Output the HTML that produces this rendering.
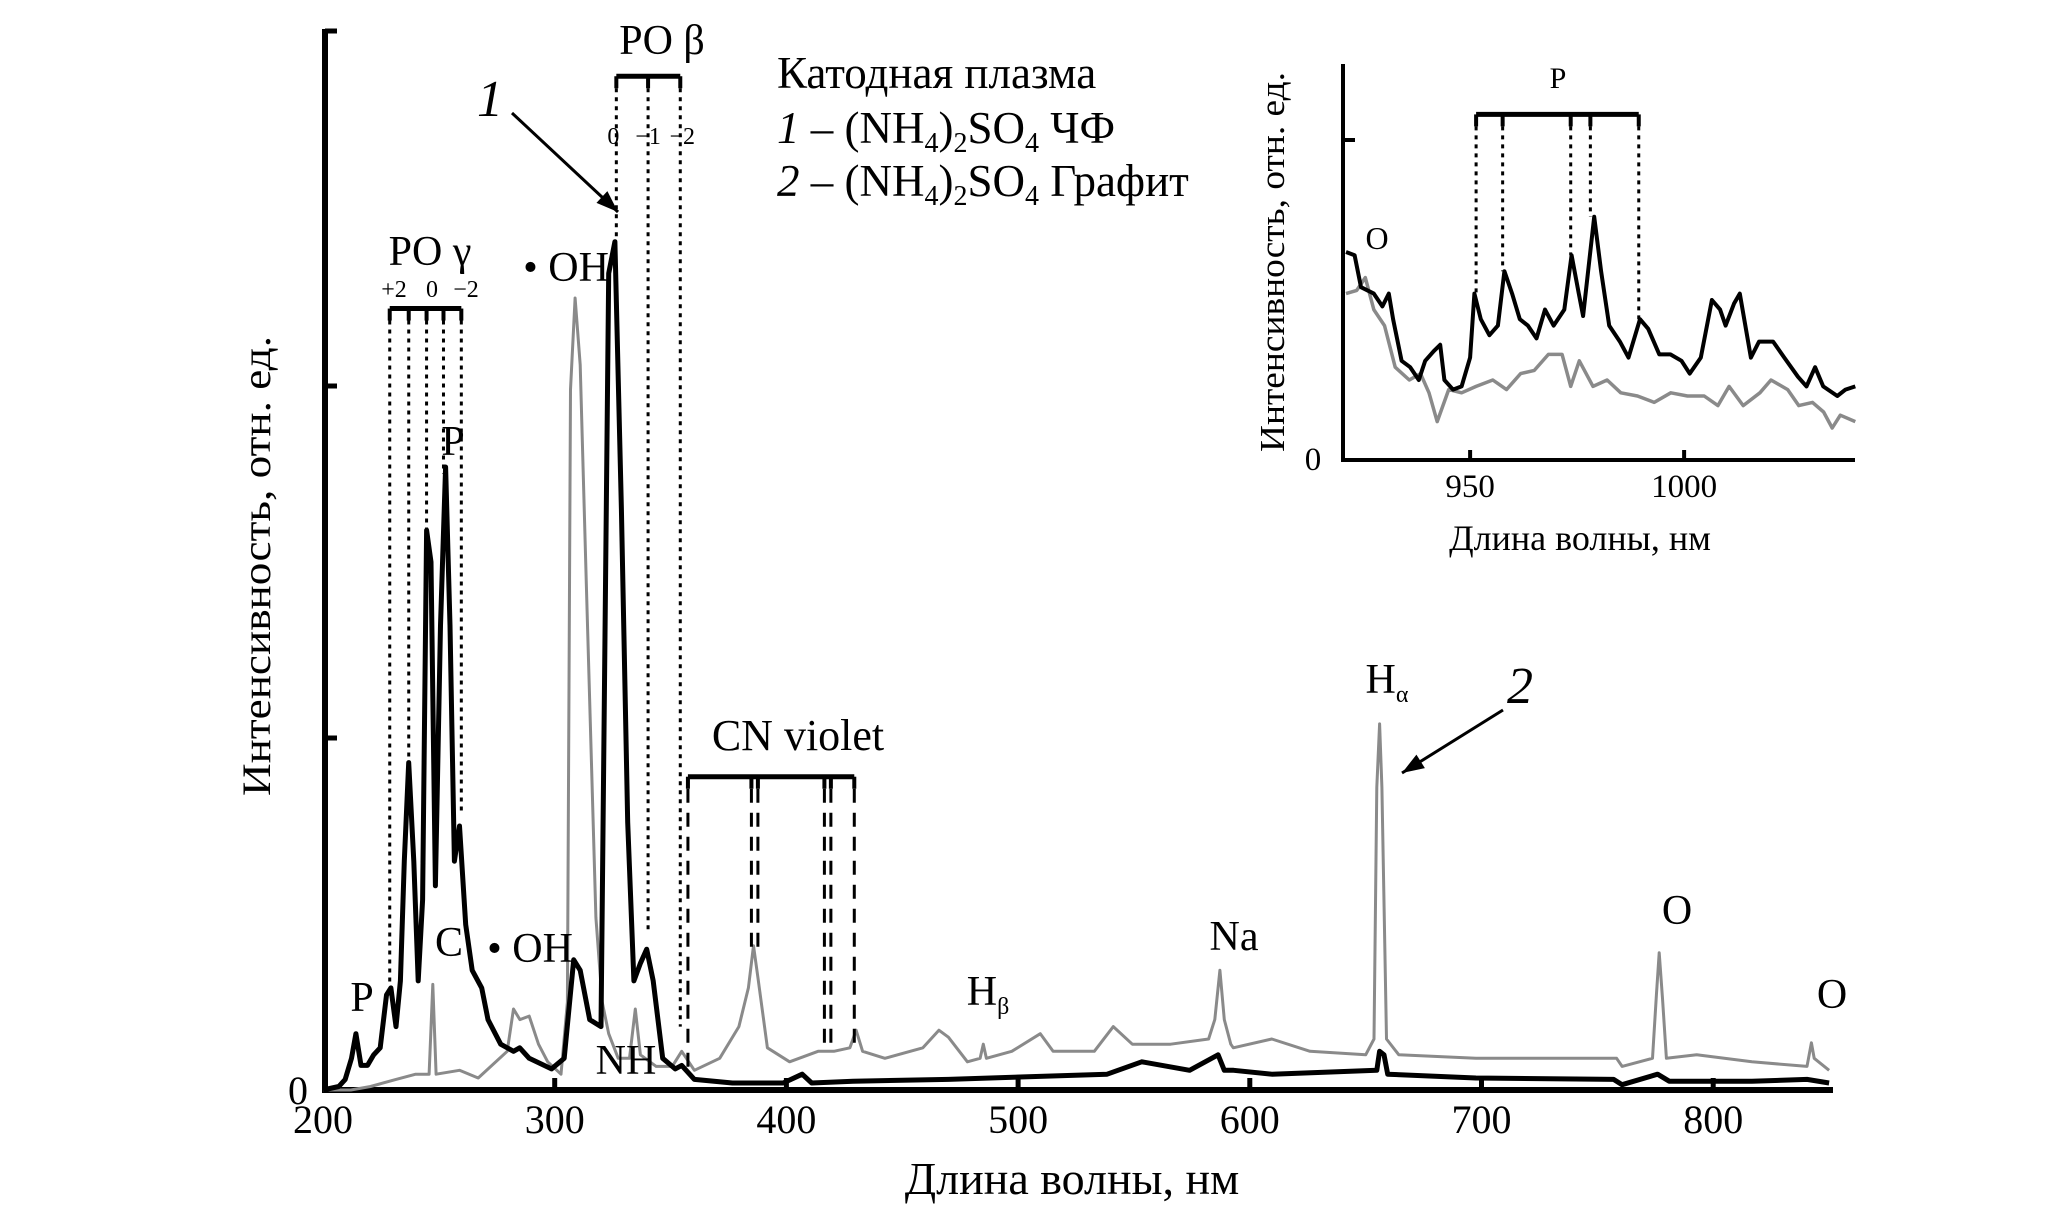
<!DOCTYPE html>
<html><head><meta charset="utf-8"><style>
html,body{margin:0;padding:0;background:#fff;}
svg{display:block;font-family:"Liberation Serif",serif;}
</style></head><body>
<svg id="chart" width="2067" height="1206" viewBox="0 0 2067 1206" xmlns="http://www.w3.org/2000/svg">
<g id="main"></g>
<g id="inset"></g>
</svg>
<script>
// ---- main chart data ----
const mainXTicks = [200,300,400,500,600,700,800];
const mainYTicks = [1,2,3];
const blackNm = [200,206.8,209.6,212.3,214.2,216.4,219.2,221.9,224.7,227.4,229.3,231.5,233.4,235.1,237,239.2,241.1,243,244.7,246.6,248.5,250.7,252.9,254.8,256.7,258.9,261.6,264.4,268.5,271.2,276.7,282.2,284.9,289,298.6,304.1,308.2,311,315.1,320,323.3,326,328.8,331.5,334.2,337,339.7,342.5,346.6,352,354.8,360.3,376.7,398.6,406.8,410.9,428.8,469.9,538.4,553.4,574,586.3,589,593,609.5,654.8,656,657.9,659.5,697.6,757,760.7,776,781,816.7,840.5,850];
const blackVal = [0,0.01,0.03,0.09,0.16,0.07,0.07,0.10,0.12,0.27,0.29,0.18,0.31,0.65,0.93,0.65,0.31,0.54,1.59,1.50,0.58,1.32,1.77,1.32,0.65,0.75,0.47,0.34,0.29,0.20,0.13,0.11,0.12,0.09,0.06,0.09,0.37,0.34,0.20,0.18,2.32,2.41,1.65,0.76,0.31,0.36,0.40,0.31,0.09,0.06,0.07,0.03,0.02,0.02,0.045,0.02,0.025,0.03,0.045,0.08,0.056,0.10,0.056,0.056,0.045,0.056,0.11,0.10,0.045,0.034,0.03,0.015,0.045,0.025,0.025,0.03,0.02];
const greyNm = [200,212,220.5,231.5,240,245.8,247.4,248.8,258.9,267,279.5,282.2,285,289,293,297,302.7,305.5,306.8,308.8,311,313.7,317.8,320.5,323.3,327.4,332.3,334.8,337,343.8,350.7,354.8,360.3,371.2,379.5,383.6,385.8,387.7,391.8,401.4,413.7,420.5,427.4,430.1,432.9,442.5,458.9,465.8,469.9,478.1,483.6,485,486.3,497.3,509.6,515.1,532.9,541.1,549.3,565.8,582.2,584.9,587.1,589,591.8,592.9,609.5,626,650,653.6,654.8,656,657,659,664.3,697.6,733.3,758.3,760.7,773.8,775.5,776.7,778.1,779.8,792.9,816.7,840.5,842.4,843.6,850];
const greyVal = [0,0,0.01,0.03,0.045,0.045,0.30,0.045,0.056,0.034,0.11,0.23,0.20,0.21,0.13,0.08,0.045,0.25,1.99,2.25,2.06,1.43,0.49,0.25,0.16,0.09,0.09,0.23,0.10,0.067,0.067,0.11,0.056,0.09,0.18,0.29,0.41,0.32,0.12,0.08,0.11,0.11,0.12,0.17,0.11,0.09,0.12,0.17,0.15,0.08,0.09,0.13,0.09,0.11,0.16,0.11,0.11,0.18,0.13,0.13,0.145,0.20,0.34,0.20,0.13,0.12,0.145,0.11,0.10,0.145,0.86,1.04,0.86,0.145,0.10,0.09,0.09,0.09,0.067,0.09,0.27,0.39,0.26,0.09,0.10,0.08,0.067,0.134,0.09,0.056];
// ---- inset data ----
const insetXTicks = [950,1000];
const insetBlackNm = [921,923,924.5,927.5,929.5,931,932,934,936,938,939.5,941.5,943,944,946,948,950,951,952.5,954.5,956.5,958,959.8,961.6,963.5,965.5,967.5,969.5,972,973.7,975.4,976.4,979,980.6,982.5,985,987,989.7,991.6,994.2,996.8,999.4,1001.3,1003.9,1006.5,1008.4,1009.7,1011.7,1013,1015.6,1017.5,1020.8,1023.4,1026.6,1028.6,1030.6,1032.5,1035.8,1037.7,1040];
const insetBlackVal = [0.65,0.64,0.54,0.52,0.48,0.52,0.44,0.31,0.29,0.25,0.31,0.34,0.36,0.25,0.22,0.23,0.32,0.52,0.44,0.39,0.42,0.59,0.52,0.44,0.42,0.38,0.47,0.42,0.47,0.64,0.52,0.45,0.76,0.59,0.42,0.37,0.32,0.44,0.41,0.33,0.33,0.31,0.27,0.32,0.50,0.47,0.42,0.49,0.52,0.32,0.37,0.37,0.32,0.26,0.23,0.29,0.23,0.20,0.22,0.23];
const insetGreyNm = [921,923.5,925.5,927.5,930,932.5,935.8,938.4,940.4,942.3,945,948,951.4,955.3,958.5,961.8,965,968.3,971.5,973.5,975.5,978.7,982,985.2,989.1,993,996.9,1000.8,1004.7,1007.9,1010.5,1013.8,1017.7,1020.3,1024.2,1026.8,1030,1032.6,1034.6,1036.5,1040];
const insetGreyVal = [0.52,0.53,0.57,0.47,0.42,0.29,0.25,0.27,0.21,0.12,0.22,0.21,0.23,0.25,0.22,0.27,0.28,0.33,0.33,0.23,0.31,0.23,0.25,0.21,0.20,0.18,0.21,0.20,0.20,0.17,0.23,0.17,0.21,0.25,0.22,0.17,0.18,0.15,0.10,0.14,0.12];
// annotation positions (wavelengths / end intensities)
const poGammaNm = [228.8,237,244.7,252,259.7];
const poGammaEnd = [0.30,0.92,1.58,1.75,0.79];
const poBetaNm = [326.6,340.3,354.2];
const poBetaEnd = [2.42,0.45,0.18];
const cnNm = [357.5,384.9,387.7,416.4,419.2,429.3];
const cnEnd = [0.04,0.40,0.40,0.11,0.11,0.13];
const insetPNm = [951.4,957.6,973.5,978.1,989.4];
const insetPEnd = [0.52,0.59,0.64,0.76,0.44];

const NS='http://www.w3.org/2000/svg';
const xM = nm => 323 + (nm-200)*2.317;
const yM = v => 1090 - v*352;
const xI = nm => 1343 + (nm-920.3)*4.28;
const yI = v => 460 - v*320;
function mk(parent, tag, attrs, text){
  const e=document.createElementNS(NS,tag);
  for(const k in attrs) e.setAttribute(k,attrs[k]);
  if(text!==undefined) e.textContent=text;
  parent.appendChild(e); return e;
}
const main=document.getElementById('main');
const inset=document.getElementById('inset');
function poly(parent, xs, ys, fx, fy, stroke, w){
  const pts=xs.map((x,i)=>fx(x).toFixed(1)+','+fy(ys[i]).toFixed(1)).join(' ');
  return mk(parent,'polyline',{points:pts,fill:'none',stroke:stroke,'stroke-width':w,'stroke-linejoin':'round'});
}
// ---- main axes ----
let e;
e=mk(main,'line',{x1:323,y1:1090,x2:1833,y2:1090,stroke:'#000','stroke-width':6});
 
e=mk(main,'line',{x1:325,y1:29,x2:325,y2:1093,stroke:'#000','stroke-width':6});
 
mainYTicks.forEach(t=>{
  const yy = t===3 ? 31 : yM(t);
  e=mk(main,'line',{x1:325,y1:yy,x2:337,y2:yy,stroke:'#000','stroke-width':5});
   
});
e=mk(main,'text',{x:298,y:1104,'font-size':40,'text-anchor':'middle'},'0');
 
mainXTicks.forEach(t=>{
  if(t>200){
    e=mk(main,'line',{x1:xM(t),y1:1090,x2:xM(t),y2:1078,stroke:'#000','stroke-width':5});
     
  }
  e=mk(main,'text',{x:xM(t),y:1133,'font-size':40,'text-anchor':'middle'},String(t));
   
});
e=mk(main,'text',{x:1072,y:1194,'font-size':46,'text-anchor':'middle'},'Длина волны, нм');
 
e=mk(main,'text',{x:0,y:0,'font-size':40,'text-anchor':'middle',transform:'translate(270,566) rotate(-90)',textLength:460,lengthAdjust:'spacingAndGlyphs'},'Интенсивность, отн. ед.');
 
// series
e=poly(main,greyNm,greyVal,xM,yM,'#8a8a8a',3);
 
e=poly(main,blackNm,blackVal,xM,yM,'#000',5);
 
// brackets
function bracket(parent, nms, ends, level, fx, fy, dash, name){
  const g=mk(parent,'g',{});
   
  const y0=fy(level);
  mk(g,'line',{x1:fx(nms[0]),y1:y0,x2:fx(nms[nms.length-1]),y2:y0,stroke:'#000','stroke-width':5});
  nms.forEach((n,i)=>{
    mk(g,'line',{x1:fx(n),y1:y0,x2:fx(n),y2:y0+12,stroke:'#000','stroke-width':4});
    mk(g,'line',{x1:fx(n),y1:y0+12,x2:fx(n),y2:fy(ends[i]),stroke:'#000','stroke-width':3,'stroke-dasharray':dash});
  });
  return g;
}
bracket(main,poGammaNm,poGammaEnd,2.22,xM,yM,'4 5','po-gamma-bracket');
bracket(main,poBetaNm,poBetaEnd,2.88,xM,yM,'4 5','po-beta-bracket');
bracket(main,cnNm,cnEnd,0.89,xM,yM,'14 10','cn-violet-bracket');
// labels
function label(parent,x,y,size,txt,name,extra){
  const t=mk(parent,'text',Object.assign({x:x,y:y,'font-size':size,'text-anchor':'middle'},extra||{}));
  t.innerHTML=txt;
   
  return t;
}
label(main,362,1011,42,'P','label-p-213');
label(main,449,956,42,'C','label-c');
label(main,530,962,42,'• OH','label-oh-283');
label(main,626,1074,42,'NH','label-nh');
label(main,453,455,42,'P','label-p-253');
label(main,430,265,42,'PO γ','label-po-gamma');
label(main,394,297,24,'+2','label-po-gamma-v+2');
label(main,432,297,24,'0','label-po-gamma-v0');
label(main,466,297,24,'−2','label-po-gamma-v-2');
label(main,566,281,42,'• OH','label-oh-309');
label(main,662,54,42,'PO β','label-po-beta');
label(main,xM(326.6)-3,144,24,'0','label-po-beta-v0');
label(main,xM(340.3),144,24,'−1','label-po-beta-v-1');
label(main,xM(354.2)+2,144,24,'−2','label-po-beta-v-2');
label(main,798,750,44,'CN violet','label-cn-violet');
label(main,988,1005,42,'H<tspan font-size="24" dy="9">β</tspan>','label-h-beta');
label(main,1234,950,42,'Na','label-na');
label(main,1387,693,42,'H<tspan font-size="24" dy="9">α</tspan>','label-h-alpha');
label(main,1677,924,42,'O','label-o-777');
label(main,1832,1008,42,'O','label-o-844');
label(main,490,116,52,'1','label-curve-1',{'font-style':'italic'});
label(main,1520,703,52,'2','label-curve-2',{'font-style':'italic'});
// arrows
function arrow(x1,y1,x2,y2,name){
  const g=mk(main,'g',{});
   
  mk(g,'line',{x1:x1,y1:y1,x2:x2,y2:y2,stroke:'#000','stroke-width':3});
  const a=Math.atan2(y2-y1,x2-x1), L=22, W=8;
  const bx=x2-L*Math.cos(a), by=y2-L*Math.sin(a);
  const px=-Math.sin(a)*W, py=Math.cos(a)*W;
  mk(g,'polygon',{points:`${x2},${y2} ${bx+px},${by+py} ${bx-px},${by-py}`,fill:'#000'});
}
arrow(512,113,618,212,'arrow-curve-1');
arrow(1503,710,1402,773,'arrow-curve-2');
// legend
const lg=mk(main,'g',{});
 
let t=mk(lg,'text',{x:777,y:88,'font-size':45},'Катодная плазма');
 
t=mk(lg,'text',{x:777,y:143,'font-size':45});
t.innerHTML='<tspan font-style="italic">1</tspan> – (NH<tspan font-size="28" dy="9">4</tspan><tspan dy="-9">)</tspan><tspan font-size="28" dy="9">2</tspan><tspan dy="-9">SO</tspan><tspan font-size="28" dy="9">4</tspan><tspan dy="-9"> ЧФ</tspan>';
 
t=mk(lg,'text',{x:777,y:196,'font-size':45});
t.innerHTML='<tspan font-style="italic">2</tspan> – (NH<tspan font-size="28" dy="9">4</tspan><tspan dy="-9">)</tspan><tspan font-size="28" dy="9">2</tspan><tspan dy="-9">SO</tspan><tspan font-size="28" dy="9">4</tspan><tspan dy="-9"> Графит</tspan>';
 

// ---- inset ----
e=mk(inset,'line',{x1:1341,y1:460,x2:1855,y2:460,stroke:'#000','stroke-width':4});
 
e=mk(inset,'line',{x1:1343,y1:64,x2:1343,y2:462,stroke:'#000','stroke-width':4});
 
e=mk(inset,'line',{x1:1343,y1:yI(1),x2:1355,y2:yI(1),stroke:'#000','stroke-width':4});
 
insetXTicks.forEach(v=>{
  e=mk(inset,'line',{x1:xI(v),y1:460,x2:xI(v),y2:450,stroke:'#000','stroke-width':4});
   
  e=mk(inset,'text',{x:xI(v),y:497,'font-size':33,'text-anchor':'middle'},String(v));
   
});
e=mk(inset,'text',{x:1313,y:470,'font-size':33,'text-anchor':'middle'},'0');
 
e=mk(inset,'text',{x:1580,y:550,'font-size':36,'text-anchor':'middle'},'Длина волны, нм');
 
e=mk(inset,'text',{x:0,y:0,'font-size':35,'text-anchor':'middle',transform:'translate(1284,262) rotate(-90)',textLength:380,lengthAdjust:'spacingAndGlyphs'},'Интенсивность, отн. ед.');
 
e=poly(inset,insetGreyNm,insetGreyVal,xI,yI,'#8a8a8a',3.5);
 
e=poly(inset,insetBlackNm,insetBlackVal,xI,yI,'#000',4);
 
bracket(inset,insetPNm,insetPEnd,1.08,xI,yI,'4 5','inset-p-bracket');
label(inset,1558,88,30,'P','inset-label-p');
label(inset,1377,249,32,'O','inset-label-o');
</script>
</body></html>
